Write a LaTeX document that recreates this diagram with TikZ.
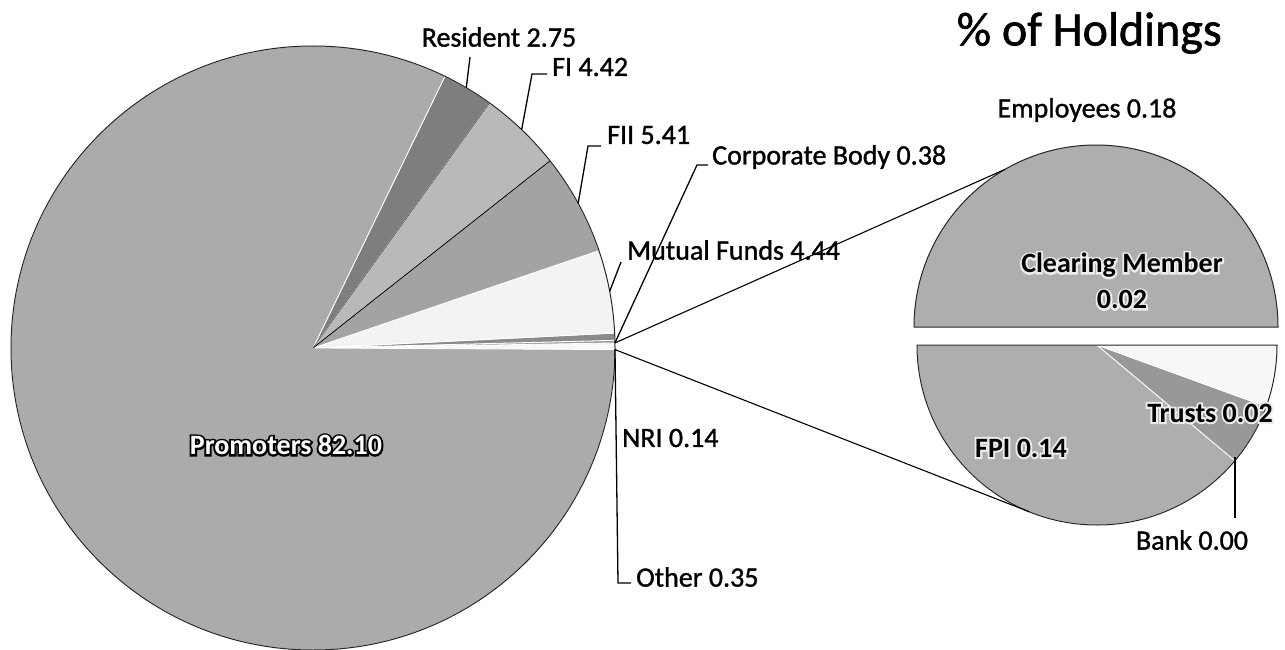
\documentclass[tikz,border=0pt]{standalone}
\usepackage{fontspec}
\setmainfont{Carlito}
\newfontfamily\lblfont[FakeBold=1.2]{Carlito}
\newfontfamily\halofont[FakeBold=14]{Carlito Bold}
\newfontfamily\innerfont{Carlito Bold}
\usetikzlibrary{calc}
\definecolor{promo}{HTML}{ABABAB}
\definecolor{resid}{HTML}{7E7E7E}
\definecolor{fic}{HTML}{B9B9B9}
\definecolor{fiic}{HTML}{A3A3A3}
\definecolor{mfc}{HTML}{F3F3F3}
\definecolor{cbc}{HTML}{8A8A8A}
\definecolor{nric}{HTML}{9C9C9C}
\definecolor{othc}{HTML}{F7F7F7}
\definecolor{secc}{HTML}{AEAEAE}
\definecolor{trc}{HTML}{989898}
\tikzset{
  lbl/.style={font=\lblfont\fontsize{28}{36}\selectfont, inner sep=0pt},
  blbl/.style={font=\innerfont\fontsize{28}{36}\selectfont, inner sep=0pt, align=center},
  hlbl/.style={font=\halofont\fontsize{28}{36}\selectfont, inner sep=0pt, align=center},
  leader/.style={draw=black, line width=1.3pt},
  slicebd/.style={draw=white, line width=0.8pt},
  rim/.style={draw=black!85, line width=1pt},
}
\newcommand{\halolabel}[5]{% name, position (x,y), halo colour, text colour, text
  \node[hlbl, text=#3] (#1h) at (#2) {#5};
  \node[blbl, text=#4] (#1) at (#2) {#5};
}
\begin{document}
\begin{tikzpicture}[x=1pt,y=1pt]
\useasboundingbox (0,0) rectangle (1285,-650);
\fill[white] (0,0) rectangle (1285,-650);
% ---------- main pie ----------
\coordinate (M) at (313,-348);
\def\R{302}
\foreach \a/\b/\c in {-0.3/0.96/othc, 0.96/1.46/nric, 1.46/2.83/cbc, 2.83/18.81/mfc,
  18.81/38.29/fiic, 38.29/54.2/fic, 54.2/64.1/resid, 64.1/359.7/promo}{
  \filldraw[fill=\c, slicebd] (M) -- ++(\a:\R) arc[start angle=\a, end angle=\b, radius=\R] -- cycle;
}
\draw[black, line width=0.9pt] (M) -- ++(38.29:\R);
\draw[black!70, line width=0.6pt] (M) -- ++(54.2:\R);
\draw[rim] (M) circle[radius=\R];
% hub points on the Other slice
\coordinate (hubA) at ($(M)+(0.96:\R)$);
\coordinate (hubB) at ($(M)+(-0.3:\R)$);
% ---------- secondary pie ----------
\coordinate (U) at (1096,-327);
\coordinate (L) at (1097,-345);
\filldraw[fill=secc, rim] (U) ++(0:182) arc[start angle=0, end angle=180, radius=182] -- cycle;
\filldraw[fill=secc, slicebd] (L) -- ++(-180:180) arc[start angle=-180, end angle=-40, radius=180] -- cycle;
\filldraw[fill=trc, slicebd] (L) -- ++(-40:180) arc[start angle=-40, end angle=-20, radius=180] -- cycle;
\filldraw[fill=othc, slicebd] (L) -- ++(-20:180) arc[start angle=-20, end angle=0, radius=180] -- cycle;
\draw[rim] (L) ++(0:180) arc[start angle=0, end angle=-180, radius=180] -- cycle;
% connectors between pies
\coordinate (secTop) at ($(U)+(120:182)$);
\coordinate (secBot) at ($(L)+(-112:180)$);
\draw[leader, line width=1.1pt] (hubA) -- (secTop);
\draw[leader, line width=1.1pt] (hubB) -- (secBot);
% ---------- labels ----------
\node[lbl, font=\lblfont\fontsize{48}{56}\selectfont, anchor=east] (title) at (1222,-33) {\% of Holdings};
\node[lbl] (resident) at (499,-37) {Resident 2.75};
\node[lbl, anchor=west] (fi) at (552,-67) {FI 4.42};
\node[lbl, anchor=west] (fii) at (607,-135) {FII 5.41};
\node[lbl, anchor=west] (mf) at (627,-250) {Mutual Funds 4.44};
\node[lbl, anchor=west] (cb) at (712,-157) {Corporate Body 0.38};
\node[lbl, anchor=west] (nri) at (622,-438) {NRI 0.14};
\node[lbl, anchor=west] (other) at (636,-577) {Other 0.35};
\node[lbl] (emp) at (1087,-110) {Employees 0.18};
\node[lbl] (bank) at (1192,-540) {Bank 0.00};
\halolabel{promoters}{286,-445}{black}{white}{Promoters 82.10}
\halolabel{clearing}{1122,-281}{white!85!gray}{black}{Clearing Member\\0.02}
\halolabel{trusts}{1210,-413}{white!85!gray}{black}{Trusts 0.02}
\halolabel{fpi}{1021,-448}{white!85!gray}{black}{FPI 0.14}
% ---------- leader lines ----------
\coordinate (resT) at (470,-57);
\coordinate (resE) at ($(M)+(59.5:\R)$);
\draw[leader] (resT) -- (resE);
\coordinate (fiK) at (547,-74);
\coordinate (fiC) at (532,-74);
\coordinate (fiE) at ($(M)+(46.3:\R)$);
\draw[leader] (fiK) -- (fiC) -- (fiE);
\coordinate (fiiK) at (601,-146);
\coordinate (fiiC) at (588,-146);
\coordinate (fiiE) at ($(M)+(28.6:\R)$);
\draw[leader] (fiiK) -- (fiiC) -- (fiiE);
\coordinate (mfT) at (621,-262);
\coordinate (mfE) at ($(M)+(10.8:\R)$);
\draw[leader] (mfT) -- (mfE);
\coordinate (cbK) at (708,-165);
\coordinate (cbC) at (697,-165);
\draw[leader] (cbK) -- (cbC) -- (hubA);
\coordinate (othC) at (618,-583);
\coordinate (othK) at (631,-583);
\draw[leader] (hubB) -- (othC) -- (othK);
\coordinate (bankT) at (1235,-457);
\coordinate (bankB) at (1235,-518);
\draw[leader] (bankT) -- (bankB);
\end{tikzpicture}
\end{document}
